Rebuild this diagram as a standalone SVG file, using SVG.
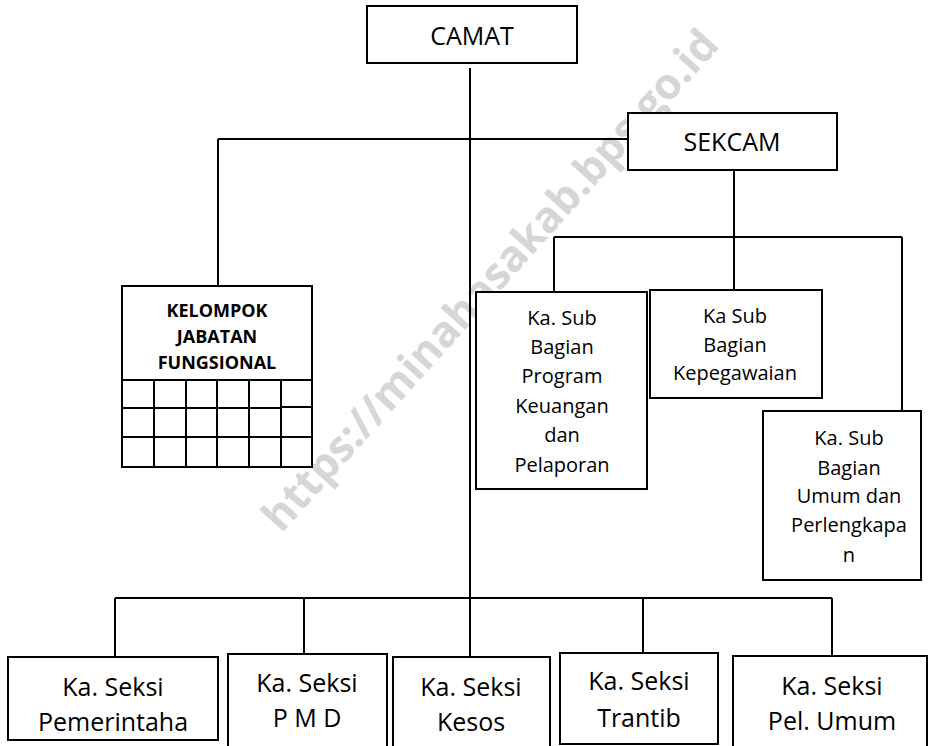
<svg xmlns="http://www.w3.org/2000/svg" width="929" height="746" viewBox="0 0 929 746">
<style>
.box{fill:#fff;stroke:#000;stroke-width:2}
.ln{fill:none;stroke:#000;stroke-width:2}
text{font-family:"Open Sans","Liberation Sans",sans-serif;fill:#000;text-anchor:middle}
.big{font-size:25px}
.mid{font-size:20px}
.bold{font-size:18px;font-weight:bold}
.wm{font-size:43px;font-weight:bold;fill:#d6d6d6}
</style>
<rect width="929" height="746" fill="#fff"/>
<text class="wm" x="492" y="294" transform="rotate(-48 492 282)">https://minahasakab.bps.go.id</text>
<g id="connectors">
<path class="ln" d="M470,68V598M218,139H628M218,139V286M734,170V237M554,237H902M554,237V292M734,237V290M902,237V411M115,598H832M115,598V656M304,598V654M470,598V657M643,598V653M832,598V656"/>
</g>
<g id="camat"><rect class="box" x="367" y="6" width="210" height="57"/><text class="big" x="472" y="45">CAMAT</text></g>
<g id="sekcam"><rect class="box" x="628" y="113" width="209" height="57"/><text class="big" x="732" y="151">SEKCAM</text></g>
<g id="kelompok">
<rect class="box" x="122" y="286" width="190" height="181"/>
<text class="bold" x="217" y="317">KELOMPOK</text>
<text class="bold" x="217" y="343">JABATAN</text>
<text class="bold" x="217" y="369">FUNGSIONAL</text>
<path class="ln" d="M122,380H312M122,408H281M281,407H312M122,437H312M154,380V467M186,380V467M217,380V467M249,380V467M281,380V467"/>
</g>
<g id="program"><rect class="box" x="476" y="292" width="171" height="197"/>
<text class="mid" x="562" y="325">Ka. Sub</text><text class="mid" x="562" y="354">Bagian</text><text class="mid" x="562" y="383">Program</text><text class="mid" x="562" y="413">Keuangan</text><text class="mid" x="562" y="442">dan</text><text class="mid" x="562" y="472">Pelaporan</text></g>
<g id="kepegawaian"><rect class="box" x="650" y="290" width="172" height="108"/>
<text class="mid" x="735" y="323">Ka Sub</text><text class="mid" x="735" y="352">Bagian</text><text class="mid" x="735" y="380">Kepegawaian</text></g>
<g id="umum"><rect class="box" x="763" y="411" width="158" height="169"/>
<text class="mid" x="849" y="445">Ka. Sub</text><text class="mid" x="849" y="475">Bagian</text><text class="mid" x="849" y="503">Umum dan</text><text class="mid" x="849" y="532">Perlengkapa</text><text class="mid" x="849" y="562">n</text></g>
<g id="pemerintahan"><rect class="box" x="8" y="657" width="210" height="83"/>
<text class="big" x="113" y="696">Ka. Seksi</text><text class="big" x="113" y="731">Pemerintaha</text></g>
<g id="pmd"><rect class="box" x="228" y="654" width="159" height="100"/>
<text class="big" x="307" y="692">Ka. Seksi</text><text class="big" x="307" y="727">P M D</text></g>
<g id="kesos"><rect class="box" x="393" y="657" width="157" height="100"/>
<text class="big" x="471" y="696">Ka. Seksi</text><text class="big" x="471" y="731">Kesos</text></g>
<g id="trantib"><rect class="box" x="560" y="653" width="158" height="91"/>
<text class="big" x="639" y="690">Ka. Seksi</text><text class="big" x="639" y="727">Trantib</text></g>
<g id="pelumum"><rect class="box" x="733" y="656" width="194" height="100"/>
<text class="big" x="832" y="695">Ka. Seksi</text><text class="big" x="832" y="730">Pel. Umum</text></g>
</svg>
